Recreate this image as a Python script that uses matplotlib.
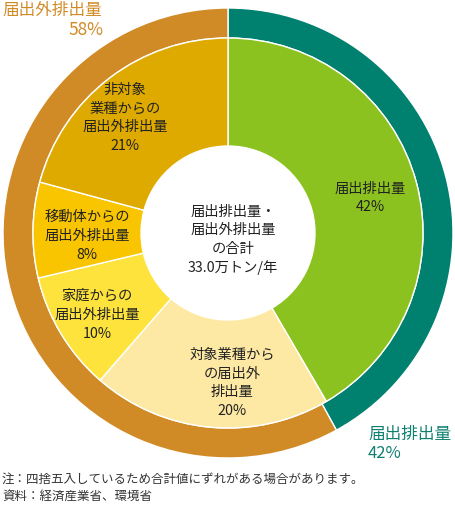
import matplotlib
matplotlib.use("Agg")
import matplotlib.pyplot as plt

plt.rcParams['font.family'] = ['Noto Sans CJK JP', 'DejaVu Sans']

# outer ring: reported / not reported
outer_labels = ['届出排出量', '届出外排出量']
outer_values = [42, 58]
outer_colors = ['#00806f', '#d18b26']

# inner pie: breakdown
inner_labels = ['届出排出量\n42%',
                '対象業種から\nの届出外\n排出量\n20%',
                '家庭からの\n届出外排出量\n10%',
                '移動体からの\n届出外排出量\n8%',
                '非対象\n業種からの\n届出外排出量\n21%']
inner_values = [42, 20, 10, 8, 21]
inner_colors = ['#8cc21f', '#fde9a4', '#fde33c', '#f8c500', '#dfaa00']

W, H = 456, 505
fig = plt.figure(figsize=(W / 100, H / 100), dpi=100)
ax = fig.add_axes([0, 0, 1, 1])

cx, cy = 228, H - 233
R_out, R_in, R_hole = 225, 195, 87

ax.pie(outer_values, colors=outer_colors, startangle=90, counterclock=False,
       radius=R_out, center=(cx, cy), frame=True,
       wedgeprops=dict(width=R_out - R_in, edgecolor='white', linewidth=1))
ax.pie(inner_values, colors=inner_colors, startangle=90, counterclock=False,
       radius=R_in, center=(cx, cy), frame=True,
       wedgeprops=dict(width=R_in - R_hole, edgecolor='white', linewidth=1))
ax.set_xlim(0, W)
ax.set_ylim(0, H)
ax.set_aspect('equal')
ax.axis('off')

# label positions in pixels (x, y from top)
label_pos = [(370, 198), (232, 383), (97, 315), (87, 236), (125, 118)]
for txt, (px, py) in zip(inner_labels, label_pos):
    ax.text(px, H - py, txt, ha='center', va='center', fontsize=10.3,
            color='#222222', linespacing=1.45)

ax.text(233, H - 240, '届出排出量・\n届出外排出量\nの合計\n33.0万トン/年',
        ha='center', va='center', fontsize=10.3, color='#222222', linespacing=1.38)

ax.text(2, H - 2, outer_labels[1], ha='left', va='top', fontsize=12,
        color='#d18b26')
ax.text(103, H - 21, '%d%%' % outer_values[1], ha='right', va='top',
        fontsize=12.5, color='#d18b26')
ax.text(368, H - 426, outer_labels[0] + '\n%d%%' % outer_values[0],
        ha='left', va='top', fontsize=12, color='#0f8070', linespacing=1.15)

ax.text(2, H - 479, '注：四捨五入しているため合計値にずれがある場合があります。',
        ha='left', va='center', fontsize=9, color='#333333')
ax.text(2, H - 496, '資料：経済産業省、環境省',
        ha='left', va='center', fontsize=9, color='#333333')

fig.savefig('out.png', dpi=100)
